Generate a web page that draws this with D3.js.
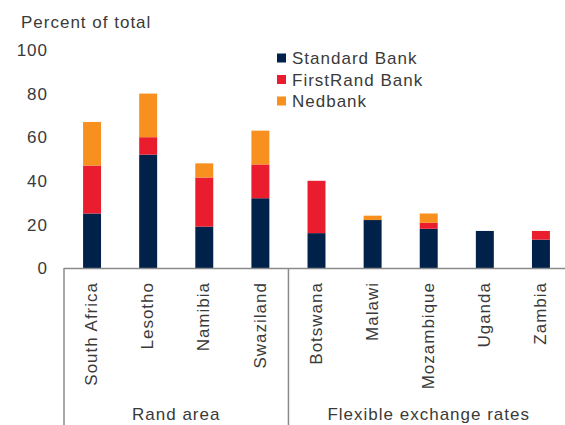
<!DOCTYPE html>
<html><head><meta charset="utf-8">
<script src="https://cdn.jsdelivr.net/npm/d3@7"></script>
<style>
html,body{margin:0;padding:0;background:#fff;}
text{font-family:"Liberation Sans",Arial,sans-serif;fill:#3a3a3a;letter-spacing:1px;}
</style></head>
<body>
<svg id="c" width="565" height="425"></svg>
<script>
const categories = ["South Africa","Lesotho","Namibia","Swaziland","Botswana","Malawi","Mozambique","Uganda","Zambia"];
const seriesNames = ["Standard Bank","FirstRand Bank","Nedbank"];
const standardBank = [25, 52, 19, 32, 16, 22, 18, 17, 13];
const firstRandBank = [22, 8, 22.5, 15.5, 24, 0, 2.7, 0, 4];
const nedbank = [20, 20, 6.5, 15.5, 0, 2, 4.3, 0, 0];
const yTicks = [0, 20, 40, 60, 80, 100];
const groups = [{name:"Rand area", from:0, to:3},{name:"Flexible exchange rates", from:4, to:8}];
const colors = ["#00214a", "#ea1d2e", "#f7901e"];

const svg = d3.select("#c");
const x = d3.scaleBand().domain(categories).range([64, 569]).paddingInner(0.68).paddingOuter(0.34);
const y = d3.scaleLinear().domain([0, 100]).range([268, 50]);

const rows = categories.map((c,i)=>({cat:c, "Standard Bank":standardBank[i], "FirstRand Bank":firstRandBank[i], "Nedbank":nedbank[i]}));
const stacked = d3.stack().keys(seriesNames)(rows);

svg.append("g").selectAll("g").data(stacked).join("g")
  .attr("fill",(d,i)=>colors[i])
  .selectAll("rect").data(d=>d).join("rect")
  .attr("x", d=>x(d.data.cat))
  .attr("width", x.bandwidth())
  .attr("y", d=>y(d[1]))
  .attr("height", d=>y(d[0])-y(d[1]));

// y tick labels
svg.append("g").selectAll("text").data(yTicks).join("text")
  .attr("x", 48).attr("y", d=>y(d)).attr("dy","0.36em")
  .attr("text-anchor","end").style("font-size","17px").text(d=>d);

svg.append("text").attr("x",21).attr("y",28).style("font-size","17px").text("Percent of total");

// axis line
svg.append("line").attr("x1",64).attr("x2",565).attr("y1",268.5).attr("y2",268.5)
  .attr("stroke","#8a8a8a").attr("stroke-width",1.5);

// group separators
const step = x.step();
const seps = [64, x(categories[4]) - (step - x.bandwidth())/2];
svg.append("g").selectAll("line").data(seps).join("line")
  .attr("x1",d=>d).attr("x2",d=>d).attr("y1",268).attr("y2",425)
  .attr("stroke","#8a8a8a").attr("stroke-width",1.5);

// category labels
svg.append("g").selectAll("text").data(categories).join("text")
  .attr("transform", d=>`translate(${x(d)+x.bandwidth()/2-1},282) rotate(-90)`)
  .attr("dy","0.36em").attr("text-anchor","end").style("font-size","17px").text(d=>d);

// group labels
svg.append("g").selectAll("text").data(groups).join("text")
  .attr("x", g=>{const a = x(categories[g.from]) - (step-x.bandwidth())/2; const b = x(categories[g.to]) + x.bandwidth() + (step-x.bandwidth())/2; return (a+b)/2;})
  .attr("y", 420).attr("text-anchor","middle").style("font-size","17px").text(g=>g.name);

// legend
const lg = svg.append("g").selectAll("g").data(seriesNames).join("g")
  .attr("transform",(d,i)=>`translate(277,${58 + i*21.5})`);
lg.append("rect").attr("x",0).attr("y",-4.5).attr("width",9).attr("height",9).attr("fill",(d,i)=>colors[i]);
lg.append("text").attr("x",15).attr("dy","0.36em").style("font-size","17px").text(d=>d);
</script>
</body></html>
